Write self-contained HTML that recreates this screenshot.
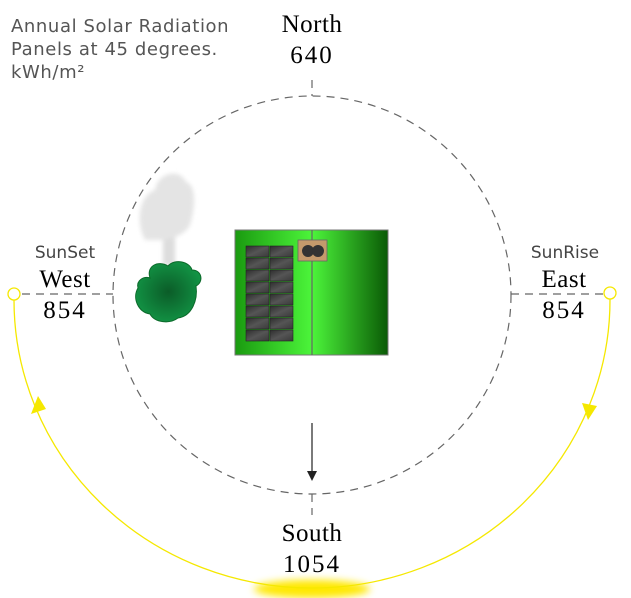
<!DOCTYPE html>
<html><head><meta charset="utf-8"><style>
html,body{margin:0;padding:0;background:#fff;}
svg{display:block}
</style></head><body>
<svg width="631" height="598" viewBox="0 0 631 598" xmlns="http://www.w3.org/2000/svg">
<defs>
<linearGradient id="roofL" x1="0" x2="1"><stop offset="0" stop-color="#1a9a10"/><stop offset="1" stop-color="#4cf53a"/></linearGradient>
<linearGradient id="roofR" x1="0" x2="1"><stop offset="0" stop-color="#4cf53a"/><stop offset="1" stop-color="#0a5a06"/></linearGradient>
<radialGradient id="tree" cx="0.5" cy="0.5" r="0.6"><stop offset="0" stop-color="#0b5c28"/><stop offset="1" stop-color="#139a48"/></radialGradient>
<linearGradient id="panel" x1="0" y1="0" x2="1" y2="1"><stop offset="0" stop-color="#2e2e2e"/><stop offset="0.5" stop-color="#555"/><stop offset="1" stop-color="#3a3a3a"/></linearGradient>
<filter id="blur" x="-50%" y="-50%" width="200%" height="200%"><feGaussianBlur stdDeviation="4"/></filter>
<filter id="blur2"><feGaussianBlur stdDeviation="2"/></filter>
</defs>
<text font-family="DejaVu Sans, sans-serif" font-size="18" letter-spacing="0.6" fill="#555">
<tspan x="11" y="32">Annual Solar Radiation</tspan>
<tspan x="11" y="55">Panels at 45 degrees.</tspan>
<tspan x="11" y="78">kWh/m²</tspan>
</text>
<g stroke="#666" stroke-width="1.2" stroke-dasharray="8,6" fill="none">
<circle cx="312" cy="295" r="199"/>
<line x1="312" y1="80" x2="312" y2="96"/>
<line x1="312" y1="494" x2="312" y2="515"/>
<line x1="22" y1="294" x2="113" y2="294"/>
<line x1="511" y1="294" x2="604" y2="294"/>
</g>
<g font-family="Liberation Serif, serif" font-size="25" fill="#000" text-anchor="middle" letter-spacing="0.5">
<text x="312" y="32">North</text><text x="312" y="63" letter-spacing="2">640</text>
<text x="312" y="541">South</text><text x="312" y="572" letter-spacing="2">1054</text>
<text x="65" y="287">West</text><text x="65" y="318" letter-spacing="2">854</text>
<text x="564" y="287">East</text><text x="564" y="318" letter-spacing="2">854</text>
</g>
<g font-family="DejaVu Sans, sans-serif" font-size="17" fill="#444" text-anchor="middle">
<text x="65" y="258">SunSet</text><text x="565" y="258">SunRise</text>
</g>
<ellipse cx="312" cy="589" rx="58" ry="9" fill="#ffe800" filter="url(#blur)"/>
<path d="M14,300 A298,288 0 0 0 312,588 A298,288 0 0 0 610,299" fill="none" stroke="#f5e800" stroke-width="1.3"/>
<circle cx="14" cy="294" r="6" fill="none" stroke="#f5e800" stroke-width="1.3"/>
<circle cx="610" cy="293" r="6" fill="none" stroke="#f5e800" stroke-width="1.3"/>
<polygon points="38,396 31,414 46,409" fill="#f5e800"/>
<polygon points="588,420 582,403 597,406" fill="#f5e800"/>
<line x1="312" y1="423" x2="312" y2="472" stroke="#222" stroke-width="1.2"/>
<polygon points="307,471 317,471 312,481" fill="#222"/>
<g filter="url(#blur2)">
<rect x="163" y="225" width="12" height="40" fill="#ddd"/>
<path d="M145,240 C135,220 140,195 155,190 C158,172 180,168 186,182 C196,185 196,205 190,225 C185,235 170,240 160,240 Z" fill="#e4e4e4"/>
</g>
<path d="M150,278 C146,266 158,260 168,266 C175,258 190,262 192,270 C202,270 204,282 196,286 C198,300 192,316 178,318 C170,324 155,323 150,314 C138,312 132,298 138,288 C136,280 144,276 150,278 Z" fill="url(#tree)" stroke="#0b6a2a" stroke-width="1"/>
<rect x="235" y="230" width="77" height="125" fill="url(#roofL)"/>
<rect x="312" y="230" width="76" height="125" fill="url(#roofR)"/>
<rect x="235" y="230" width="153" height="125" fill="none" stroke="#777" stroke-width="1"/>
<line x1="312" y1="230" x2="312" y2="355" stroke="#666" stroke-width="1.2"/>
<g fill="url(#panel)" stroke="#222" stroke-width="0.6">
<rect x="246" y="246" width="23" height="11"/><rect x="270" y="246" width="23" height="11"/>
<rect x="246" y="258" width="23" height="11"/><rect x="270" y="258" width="23" height="11"/>
<rect x="246" y="270" width="23" height="11"/><rect x="270" y="270" width="23" height="11"/>
<rect x="246" y="282" width="23" height="11"/><rect x="270" y="282" width="23" height="11"/>
<rect x="246" y="294" width="23" height="11"/><rect x="270" y="294" width="23" height="11"/>
<rect x="246" y="306" width="23" height="11"/><rect x="270" y="306" width="23" height="11"/>
<rect x="246" y="318" width="23" height="11"/><rect x="270" y="318" width="23" height="11"/>
<rect x="246" y="330" width="23" height="11"/><rect x="270" y="330" width="23" height="11"/>
</g>
<rect x="298" y="240" width="29" height="21" fill="#c49a6c" stroke="#666" stroke-width="0.8"/>
<circle cx="308" cy="251" r="6" fill="#333"/><circle cx="318" cy="251" r="6" fill="#333"/>
</svg>
</body></html>
